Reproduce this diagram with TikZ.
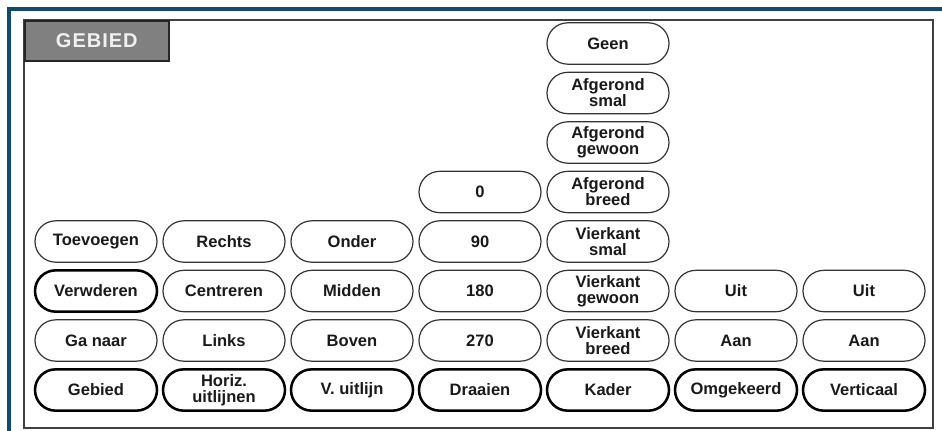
\documentclass[tikz,border=0pt]{standalone}
\usepackage{fontspec}
\setmainfont{Liberation Sans}
\newfontfamily\tabfont[LetterSpace=5]{Liberation Sans}
\usepackage{xcolor}
\usetikzlibrary{shapes.misc}
\definecolor{frameblue}{RGB}{16,74,115}
\tikzset{knop/.style={rounded rectangle, draw=black!80, line width=0.9pt, minimum width=91.5pt, minimum height=31pt, inner sep=0pt, align=center, text=black!90, font=\bfseries\fontsize{12.4}{12}\selectfont},
  vet/.style={knop, draw=black, line width=1.9pt}}

\begin{document}
\begin{tikzpicture}[x=0.75pt,y=-0.75pt]
  \useasboundingbox (0,0) rectangle (942,431);
  \draw[frameblue, line width=3pt] (9,9) rectangle (990,480); \draw[black!75, line width=1.5pt] (24,20) rectangle (933,428);
  \node[anchor=north west, fill=black!50, draw=black!85, line width=1.2pt, minimum width=108pt, minimum height=30pt, text=white!94!black, font=\tabfont\bfseries\fontsize{15}{16}\selectfont] (tab) at (24,20) {GEBIED};
  % kolom 1 en 2
  \node[vet] (gebied) at (96,390) {Gebied}; \node[knop] (ganaar) at (96,340.5) {Ga naar}; \node[vet] (verwderen) at (96,291) {Verwderen}; \node[knop] (toevoegen) at (96,241.5) {Toevoegen};
  \node[vet] (horiz) at (224,390) {Horiz.\\uitlijnen}; \node[knop] (links) at (224,340.5) {Links}; \node[knop] (centreren) at (224,291) {Centreren}; \node[knop] (rechts) at (224,241.5) {Rechts};
  % kolom 3 en 4
  \node[vet] (vuitlijn) at (352,390) {V. uitlijn}; \node[knop] (boven) at (352,340.5) {Boven}; \node[knop] (midden) at (352,291) {Midden}; \node[knop] (onder) at (352,241.5) {Onder};
  \node[vet] (draaien) at (480,390) {Draaien}; \node[knop] (d270) at (480,340.5) {270}; \node[knop] (d180) at (480,291) {180}; \node[knop] (d90) at (480,241.5) {90}; \node[knop] (d0) at (480,192) {0};
  % kolom 5
  \node[vet] (kader) at (608,390) {Kader}; \node[knop] (vkbreed) at (608,340.5) {Vierkant\\breed}; \node[knop] (vkgewoon) at (608,291) {Vierkant\\gewoon}; \node[knop] (vksmal) at (608,241.5) {Vierkant\\smal};
  \node[knop] (afbreed) at (608,192) {Afgerond\\breed}; \node[knop] (afgewoon) at (608,142.5) {Afgerond\\gewoon}; \node[knop] (afsmal) at (608,93) {Afgerond\\smal}; \node[knop] (geen) at (608,43.5) {Geen};
  % kolom 6 en 7
  \node[vet] (omgekeerd) at (736,390) {Omgekeerd}; \node[knop] (omaan) at (736,340.5) {Aan}; \node[knop] (omuit) at (736,291) {Uit};
  \node[vet] (verticaal) at (864,390) {Verticaal}; \node[knop] (veaan) at (864,340.5) {Aan}; \node[knop] (veuit) at (864,291) {Uit};
\end{tikzpicture}
\end{document}
